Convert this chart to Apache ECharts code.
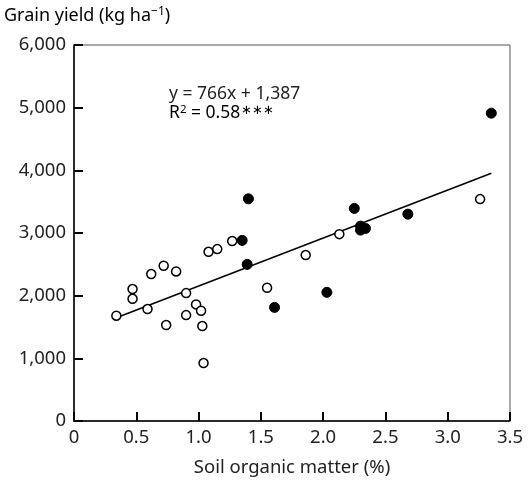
<!DOCTYPE html>
<html>
<head>
<meta charset="utf-8">
<script src="https://cdn.jsdelivr.net/npm/echarts@6/dist/echarts.min.js"></script>
<style>
  html, body { margin: 0; padding: 0; background: #fff; }
  #chart { width: 530px; height: 486px; }
</style>
</head>
<body>
<div id="chart"></div>
<script>
// Soil organic matter (%) vs grain yield (kg/ha)
const openSOM   = [0.34, 0.47, 0.47, 0.62, 0.72, 0.82, 0.59, 0.90, 0.98, 1.02, 0.90, 0.74, 1.03, 1.04, 1.08, 1.15, 1.27, 1.55, 1.86, 2.13, 3.26];
const openYield = [1680, 2105, 1950, 2345, 2477, 2387, 1786, 2041, 1861, 1759, 1690, 1531, 1515, 925, 2700, 2743, 2871, 2126, 2648, 2982, 3541];
const filledSOM   = [1.35, 1.40, 1.39, 1.61, 2.03, 2.25, 2.30, 2.30, 2.34, 2.68, 3.35];
const filledYield = [2882, 3545, 2499, 1813, 2053, 3392, 3110, 3046, 3073, 3301, 4912];

// Fitted regression: y = 766x + 1,387 over the observed SOM range
const slope = 766;
const intercept = 1387;
const fitRange = [0.34, 3.35];

const xTicks = [0, 0.5, 1.0, 1.5, 2.0, 2.5, 3.0, 3.5];
const yTicks = [0, 1000, 2000, 3000, 4000, 5000, 6000];

const FONT = '"Noto Sans", "Open Sans", sans-serif';
const TXT = '#222';

const chart = echarts.init(document.getElementById('chart'), null, { renderer: 'canvas' });

const pairs = (xs, ys) => xs.map((x, i) => [x, ys[i]]);

chart.setOption({
  animation: false,
  backgroundColor: '#fff',
  textStyle: { fontFamily: FONT },
  grid: {
    left: 74, right: 20, top: 45, bottom: 65,
    show: true, borderColor: '#555', borderWidth: 1
  },
  xAxis: {
    type: 'value',
    min: xTicks[0], max: xTicks[xTicks.length - 1], interval: 0.5,
    name: 'Soil organic matter (%)',
    nameLocation: 'middle', nameGap: 37,
    nameTextStyle: { fontFamily: FONT, fontSize: 18.5, color: TXT },
    axisLine: { lineStyle: { color: '#000', width: 1.5 } },
    axisTick: { inside: true, length: 9, lineStyle: { color: '#000', width: 2 } },
    axisLabel: {
      fontFamily: FONT, fontSize: 18.5, color: TXT, margin: 7,
      formatter: v => (v === 0 ? '0' : v.toFixed(1))
    },
    splitLine: { show: false }
  },
  yAxis: {
    type: 'value',
    min: yTicks[0], max: yTicks[yTicks.length - 1], interval: 1000,
    axisLine: { lineStyle: { color: '#000', width: 1.5 } },
    axisTick: { inside: true, length: 9, lineStyle: { color: '#000', width: 2 } },
    axisLabel: {
      fontFamily: FONT, fontSize: 18.5, color: TXT, margin: 8,
      formatter: v => v.toLocaleString('en-US')
    },
    splitLine: { show: false }
  },
  graphic: [
    {
      type: 'text', left: 4, top: 6,
      style: {
        text: '{a|Grain yield (kg ha}{s|−1}{a|)}',
        rich: {
          a: { fontFamily: FONT, fontSize: 18, color: TXT },
          s: { fontFamily: FONT, fontSize: 12, color: TXT, verticalAlign: 'top', padding: [0, 0, 7, 0] }
        }
      }
    },
    {
      type: 'text', left: 169, top: 85,
      style: {
        text: 'y = 766x + 1,387',
        font: '17.5px ' + FONT, fill: TXT
      }
    },
    {
      type: 'text', left: 169, top: 104,
      style: {
        text: '{a|R}{s|2}{a| = 0.58}{t|∗∗∗}',
        rich: {
          a: { fontFamily: FONT, fontSize: 17.5, color: TXT },
          s: { fontFamily: FONT, fontSize: 11.5, color: TXT, verticalAlign: 'top', padding: [0, 0, 7, 0] },
          t: { fontFamily: FONT, fontSize: 13, color: TXT, verticalAlign: 'top', padding: [0, 0, 5, 1] }
        }
      }
    }
  ],
  series: [
    {
      type: 'line',
      data: fitRange.map(x => [x, slope * x + intercept]),
      symbol: 'none',
      lineStyle: { color: '#000', width: 1.5 },
      silent: true,
      z: 1
    },
    {
      type: 'scatter',
      data: pairs(openSOM, openYield),
      symbol: 'circle', symbolSize: 9,
      itemStyle: { color: '#fff', borderColor: '#000', borderWidth: 1.5, opacity: 1 },
      z: 3
    },
    {
      type: 'scatter',
      data: pairs(filledSOM, filledYield),
      symbol: 'circle', symbolSize: 10,
      itemStyle: { color: '#000', borderColor: '#000', borderWidth: 1, opacity: 1 },
      z: 4
    }
  ]
});
</script>
</body>
</html>
